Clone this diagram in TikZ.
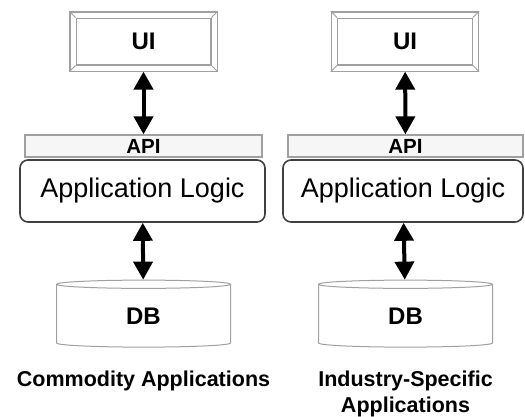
\documentclass[tikz,border=0pt]{standalone}
\usepackage{fontspec}
\setmainfont{Liberation Sans}
\usetikzlibrary{positioning,shapes.geometric,arrows.meta}
\definecolor{frame}{RGB}{160,160,160}
\definecolor{logicline}{RGB}{64,64,64}
\definecolor{apifill}{RGB}{246,246,246}

\begin{document}
\begin{tikzpicture}[x=1pt,y=-1pt]
        \useasboundingbox (0,0) rectangle (525,416);
        \tikzset{
            uibox/.style={draw=frame, line width=1.2pt, double=white, double distance=5pt, minimum width=141pt, minimum height=53pt, font=\bfseries\fontsize{24}{28}\selectfont},
            apibox/.style={draw=frame, fill=apifill, line width=1.3pt, minimum height=22pt, inner sep=0pt, font=\bfseries\fontsize{20.5}{24}\selectfont},
            logicbox/.style={draw=logicline, line width=1.6pt, rounded corners=8pt, minimum height=62pt, font=\fontsize{27}{32}\selectfont},
            dbbox/.style={cylinder, shape border rotate=90, aspect=0.2, draw=frame, line width=1pt, minimum width=174pt, minimum height=67pt, font=\bfseries\fontsize{24}{28}\selectfont},
            caption/.style={inner sep=0pt, align=center, font=\bfseries\fontsize{21.5}{26}\selectfont},
            link/.style={{Triangle[length=18pt,width=19pt]}-{Triangle[length=18pt,width=19pt]}, line width=4pt, shorten <=3pt}
        }

        % commodity stack
        \node[uibox] (uiA) at (143.5,41.5) {UI};
        \node[apibox, minimum width=237pt] (apiA) at (143.5,146) {API};
        \node[logicbox, minimum width=245pt] (logicA) at (142.5,191) {Application Logic};
        \node[dbbox] (dbA) at (143.5,316.5) {DB};

        % industry-specific stack
        \node[uibox] (uiB) at (405,41.5) {UI};
        \node[apibox, minimum width=235pt] (apiB) at (405.5,146) {API};
        \node[logicbox, minimum width=240pt] (logicB) at (403,191) {Application Logic};
        \node[dbbox] (dbB) at (405.5,316.5) {DB};

        % bevel corners of the UI frames
        \foreach \n in {uiA,uiB}
            \foreach \c/\dx/\dy in {north west/-1/1, north east/1/1, south west/-1/-1, south east/1/-1}
                \draw[frame, line width=1pt] ([shift={(\dx*3.1pt,\dy*3.1pt)}]\n.\c) -- ([shift={(-\dx*3.1pt,-\dy*3.1pt)}]\n.\c);

        \draw[link] (uiA) -- (apiA);
        \draw[link, shorten <=0pt] (logicA) -- (dbA);
        \draw[link] (uiB) -- (apiB);
        \draw[link, shorten <=0pt] (logicB) -- (dbB);

        \node[caption, below=23pt of dbA] (capA) {Commodity Applications};
        \node[caption, below=23pt of dbB] (capB) {Industry-Specific\\Applications};

    \end{tikzpicture}
\end{document}
